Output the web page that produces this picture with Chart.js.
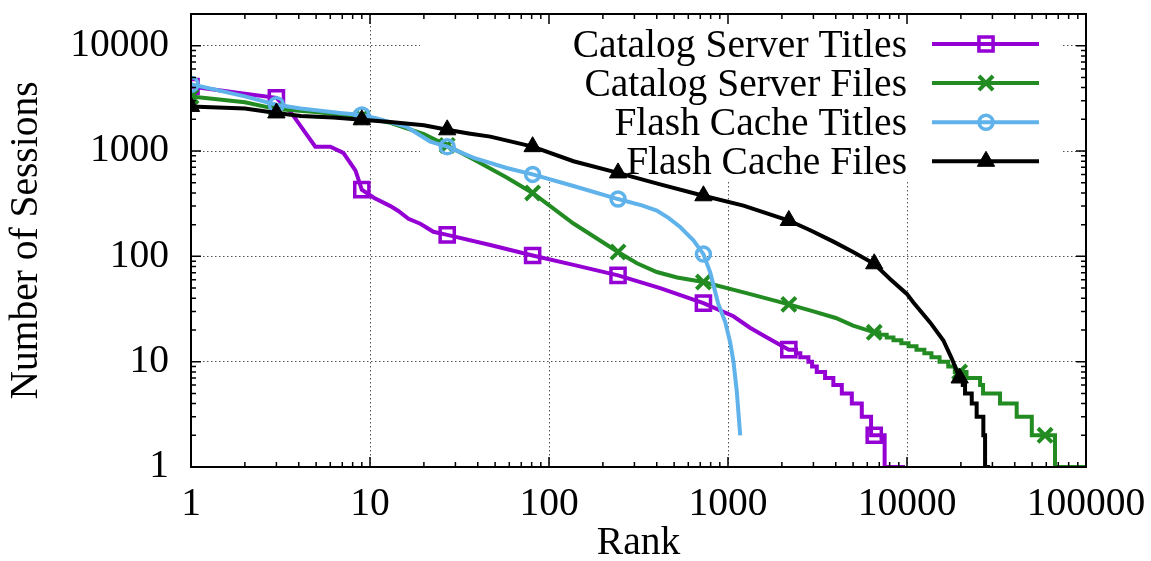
<!DOCTYPE html>
<html>
<head>
<meta charset="utf-8">
<script src="https://cdn.jsdelivr.net/npm/chart.js@4.4.1/dist/chart.umd.min.js"></script>
<style>
html, body { margin: 0; padding: 0; background: #fff; }
#wrap { width: 1151px; height: 561px; }
</style>
</head>
<body>
<div id="wrap"><canvas id="chart" width="1151" height="561"></canvas></div>
<script>
// rank / sessions pairs for each series
var catalogTitles = [[1, 4100], [2, 3500], [3, 3200], [3.6, 2350], [4.95, 1100], [6, 1100], [7.1, 960], [8.3, 650],
	[9, 430], [10.5, 360], [13, 300], [14.4, 270], [16.4, 227], [19.1, 204], [22.6, 171], [27, 160], [47, 128],
	[81, 102], [137, 83], [243, 66], [418, 50], [729, 36], [1072, 27], [1327, 21], [1650, 17], [2187, 13],
	[2400, 13], [2400, 12], [2535, 12], [2535, 11], [2813, 11], [2813, 10], [2950, 10], [2950, 9], [3133, 9],
	[3133, 8], [3486, 8], [3486, 7], [3878, 7], [3878, 6], [4323, 6], [4323, 5], [4918, 5], [4918, 4], [5590, 4],
	[5590, 3], [6300, 3], [6300, 2], [6561, 2], [7500, 2], [7500, 1], [9750, 1]];

var catalogFiles = [[1, 3300], [2, 2900], [3, 2500], [5, 2350], [9, 2100], [13, 1850], [20, 1450], [27, 1130],
	[38, 830], [58, 560], [81, 400], [137, 205], [243, 110], [310, 86], [400, 71], [520, 63], [729, 57], [1253, 45],
	[2187, 35], [3000, 30], [4000, 26], [5000, 22], [6561, 19], [7000, 19], [7000, 18], [7700, 18], [7700, 17],
	[8400, 17], [8400, 16], [9300, 16], [9300, 15], [10200, 15], [10200, 14], [11300, 14], [11300, 13],
	[12500, 13], [12500, 12], [13700, 12], [13700, 11], [15200, 11], [15200, 10], [17000, 10], [17000, 9],
	[18500, 9], [18500, 8], [19683, 8], [21500, 8], [21500, 7], [25600, 7], [25600, 6], [26600, 6], [26600, 5],
	[33100, 5], [33100, 4], [41000, 4], [41000, 3], [49800, 3], [49800, 2], [59049, 2], [67100, 2], [67100, 1],
	[99000, 1]];

var flashTitles = [[1, 4300], [2, 3300], [3, 2750], [4.1, 2530], [6.8, 2300], [9, 2200], [10.9, 2040], [16, 1700],
	[21.7, 1230], [27, 1100], [38, 860], [58, 690], [81, 600], [137, 466], [243, 350], [330, 305], [400, 272],
	[465, 232], [540, 190], [641, 142], [729, 105], [796, 70], [880, 36], [966, 23.6], [1028, 15.3], [1073, 10],
	[1120, 5.2], [1170, 2]];

var flashFiles = [[1, 2650], [2, 2530], [3, 2300], [4.1, 2150], [6.25, 2080], [9, 1980], [13, 1890], [20, 1760],
	[27, 1590], [35.6, 1470], [47, 1370], [81, 1100], [137, 800], [243, 620], [418, 483], [729, 376], [1220, 303],
	[2187, 219], [2880, 177], [3880, 138], [5000, 110], [6561, 85], [8040, 61], [9980, 44], [10860, 36.5],
	[13460, 23.6], [15970, 15.9], [17790, 10.7], [19683, 7], [20500, 7], [20500, 6], [21100, 6], [21100, 5],
	[23000, 5], [23000, 4], [24500, 4], [24500, 3], [26700, 3], [26700, 2], [27300, 2], [27300, 1], [29100, 1]];

// ranks that carry a point symbol
var markedRanks = [1, 3, 9, 27, 81, 243, 729, 2187, 6561, 19683, 59049];

var FONT = "'Liberation Serif', 'Times New Roman', serif";
var FSIZE = 39.5;

function pts(arr) {
	return arr.map(function(p) { return {x: p[0], y: p[1]}; });
}
function marker(r) {
	return function(c) {
		return (c.raw && markedRanks.indexOf(c.raw.x) >= 0) ? r : 0;
	};
}
function isDecade(v) {
	var l = Math.log10(v);
	return Math.abs(l - Math.round(l)) < 1e-6;
}
function keepDecades(scale) {
	scale.ticks = scale.ticks.filter(function(t) { return isDecade(t.value); });
}

// key box, frame, inward ticks and key entries
var gnuFrame = {
	id: 'gnuFrame',
	beforeDatasetsDraw: function(chart) {
		var a = chart.chartArea, c = chart.ctx;
		c.save();
		c.fillStyle = '#fff';
		c.fillRect(a.left + 229, a.top + 1, (a.right - 24) - (a.left + 229), 166);
		c.restore();
	},
	afterDatasetsDraw: function(chart) {
		var a = chart.chartArea, c = chart.ctx;
		var xs = chart.scales.x, ys = chart.scales.y;
		c.save();
		c.strokeStyle = '#000';
		c.lineWidth = 1.5;
		c.beginPath();
		var d, k, v, p, len;
		for (d = 1; d <= 100000; d *= 10) {
			for (k = 1; k < 10; k++) {
				v = d * k;
				if (v > 100000) break;
				p = xs.getPixelForValue(v);
				len = k == 1 ? 10 : 5;
				c.moveTo(p, a.bottom); c.lineTo(p, a.bottom - len);
				c.moveTo(p, a.top); c.lineTo(p, a.top + len);
			}
		}
		for (d = 1; d <= 10000; d *= 10) {
			for (k = 1; k < 10; k++) {
				v = d * k;
				if (v > 20000) break;
				p = ys.getPixelForValue(v);
				len = k == 1 ? 10 : 5;
				c.moveTo(a.left, p); c.lineTo(a.left + len, p);
				c.moveTo(a.right, p); c.lineTo(a.right - len, p);
			}
		}
		c.stroke();
		c.lineWidth = 2;
		c.strokeRect(a.left, a.top, a.right - a.left, a.bottom - a.top);

		// key
		var dsets = chart.data.datasets;
		c.font = FSIZE + 'px ' + FONT;
		c.textAlign = 'right';
		c.textBaseline = 'alphabetic';
		for (var i = 0; i < dsets.length; i++) {
			var ds = dsets[i];
			var y = a.top + 30 + i * 39.1;
			c.fillStyle = '#000';
			c.fillText(ds.label, a.right - 179, y + 13);
			c.strokeStyle = ds.borderColor;
			c.lineWidth = ds.borderWidth;
			c.beginPath();
			c.moveTo(a.right - 154, y);
			c.lineTo(a.right - 47, y);
			c.stroke();
			c.fillStyle = ds.pointBackgroundColor;
			c.strokeStyle = ds.pointBorderColor;
			c.lineWidth = ds.pointBorderWidth;
			Chart.helpers.drawPoint(c, {pointStyle: ds.pointStyle, radius: ds.keyRadius, rotation: 0, borderWidth: ds.pointBorderWidth}, a.right - 100, y);
		}
		c.restore();
	}
};

var chart = new Chart(document.getElementById('chart'), {
	type: 'line',
	data: {
		datasets: [{
			label: 'Catalog Server Titles',
			data: pts(catalogTitles),
			borderColor: '#9400d3',
			borderWidth: 4,
			pointStyle: 'rect',
			pointRadius: marker(10),
			keyRadius: 10,
			pointBorderWidth: 3.5,
			pointBorderColor: '#9400d3',
			pointBackgroundColor: 'rgba(0,0,0,0)',
			order: 4
		}, {
			label: 'Catalog Server Files',
			data: pts(catalogFiles),
			borderColor: '#228b22',
			borderWidth: 4,
			pointStyle: 'crossRot',
			pointRadius: marker(10),
			keyRadius: 10,
			pointBorderWidth: 4,
			pointBorderColor: '#228b22',
			pointBackgroundColor: 'rgba(0,0,0,0)',
			order: 3
		}, {
			label: 'Flash Cache Titles',
			data: pts(flashTitles),
			borderColor: '#5fb2ea',
			borderWidth: 4,
			pointStyle: 'circle',
			pointRadius: marker(7),
			keyRadius: 7,
			pointBorderWidth: 3.5,
			pointBorderColor: '#5fb2ea',
			pointBackgroundColor: 'rgba(0,0,0,0)',
			order: 2
		}, {
			label: 'Flash Cache Files',
			data: pts(flashFiles),
			borderColor: '#000',
			borderWidth: 4,
			pointStyle: 'triangle',
			pointRadius: marker(10),
			keyRadius: 10,
			pointBorderWidth: 1,
			pointBorderColor: '#000',
			pointBackgroundColor: '#000',
			order: 1
		}]
	},
	options: {
		responsive: false,
		devicePixelRatio: 1,
		animation: false,
		events: [],
		layout: { padding: { left: 0, right: 65, top: 7, bottom: 0 } },
		elements: { line: { tension: 0 } },
		plugins: { legend: { display: false }, tooltip: { enabled: false } },
		scales: {
			x: {
				type: 'logarithmic',
				min: 1,
				max: 100000,
				afterBuildTicks: keepDecades,
				afterFit: function(s) {
					s.height = 94;
					s.paddingLeft = 0; s.paddingRight = 0;
				},
				grid: { color: '#555', lineWidth: 1, drawTicks: false },
				border: { display: false, dash: [1.5, 2.5] },
				ticks: {
					callback: function(v) { return String(Math.round(v)); },
					font: { family: FONT, size: FSIZE },
					color: '#000',
					padding: 14,
					maxRotation: 0,
					autoSkip: false
				},
				title: {
					display: true,
					text: 'Rank',
					font: { family: FONT, size: FSIZE, lineHeight: 0.9 },
					color: '#000',
					padding: { top: 0, bottom: 0 }
				}
			},
			y: {
				type: 'logarithmic',
				min: 1,
				max: 20000,
				afterBuildTicks: keepDecades,
				afterFit: function(s) {
					s.width = 191;
					s.paddingTop = 0; s.paddingBottom = 0;
				},
				grid: { color: '#555', lineWidth: 1, drawTicks: false },
				border: { display: false, dash: [1.5, 2.5] },
				ticks: {
					callback: function(v) { return String(Math.round(v)); },
					font: { family: FONT, size: FSIZE },
					color: '#000',
					padding: 22,
					autoSkip: false
				},
				title: {
					display: true,
					text: 'Number of Sessions',
					font: { family: FONT, size: FSIZE, lineHeight: 1 },
					color: '#000',
					padding: { top: 6.5, bottom: 0 }
				}
			}
		}
	},
	plugins: [gnuFrame]
});
</script>
</body>
</html>
